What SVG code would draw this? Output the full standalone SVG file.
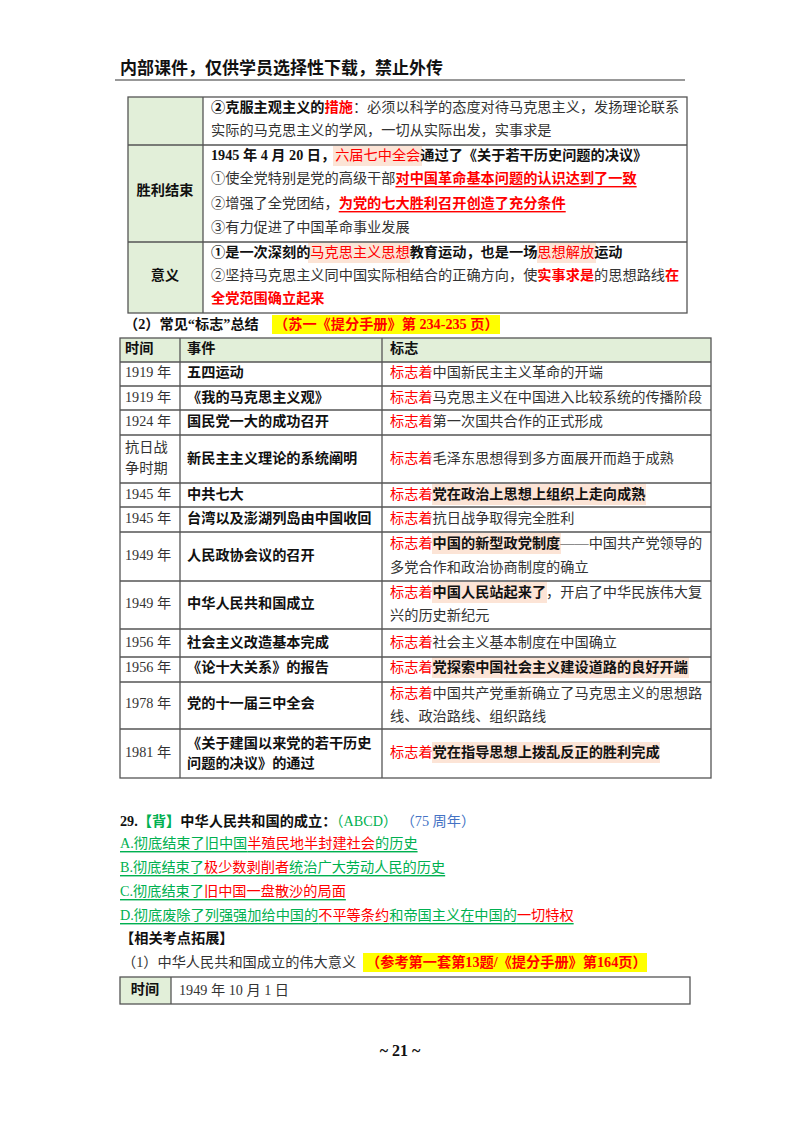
<svg xmlns="http://www.w3.org/2000/svg" width="800" height="1132" viewBox="0 0 800 1132">
<style>
text{font-family:"Liberation Serif","Noto Sans CJK SC",serif;font-size:14.2px;fill:#333;dominant-baseline:central}
.b{font-weight:bold;fill:#111}
.r{fill:#ff0000}
.g{fill:#00b050}
.bl{fill:#4472c4}
.u{text-decoration:underline}
.c{text-anchor:middle}
.ln{stroke:#555;stroke-width:1.3;fill:none}
.cell{fill:#e2efd9}
.pk{fill:#fce4d6}
.ye{fill:#ffff00}
</style>
<rect width="800" height="1132" fill="#fff"/>
<g id="header">
<text x="120" y="68" class="b" style="font-size:17px">内部课件，仅供学员选择性下载，禁止外传</text>
<line x1="115" y1="80" x2="685" y2="80" stroke="#333" stroke-width="1"/>
</g>
<g id="table1">
<rect x="128" y="97" width="75" height="216" class="cell"/>
<rect x="333" y="146" width="89" height="20" class="pk"/>
<rect x="308" y="243" width="102" height="20" class="pk"/>
<rect x="537" y="243" width="59" height="20" class="pk"/>
<rect x="128" y="97" width="559" height="216" class="ln"/>
<line x1="203" y1="97" x2="203" y2="313" class="ln"/>
<line x1="128" y1="145" x2="687" y2="145" class="ln"/>
<line x1="128" y1="242" x2="687" y2="242" class="ln"/>
<text x="211" y="107"><tspan class="b">②克服主观主义的</tspan><tspan class="r b">措施</tspan>：必须以科学的态度对待马克思主义，发扬理论联系</text>
<text x="211" y="130">实际的马克思主义的学风，一切从实际出发，实事求是</text>
<text x="165" y="190" class="b c">胜利结束</text>
<text x="211" y="155" class="b">1945 年 4 月 20 日，<tspan class="r" font-weight="normal">六届七中全会</tspan>通过了《关于若干历史问题的决议》</text>
<text x="211" y="178">①使全党特别是党的高级干部<tspan class="r b u">对中国革命基本问题的认识达到了一致</tspan></text>
<text x="211" y="203">②增强了全党团结，<tspan class="r b u">为党的七大胜利召开创造了充分条件</tspan></text>
<text x="211" y="227">③有力促进了中国革命事业发展</text>
<text x="165" y="275" class="b c">意义</text>
<text x="211" y="252" class="b">①是一次深刻的<tspan class="r" font-weight="normal">马克思主义思想</tspan>教育运动，也是一场<tspan class="r" font-weight="normal">思想解放</tspan>运动</text>
<text x="211" y="275">②坚持马克思主义同中国实际相结合的正确方向，使<tspan class="r b">实事求是</tspan>的思想路线<tspan class="r b">在</tspan></text>
<text x="211" y="298" class="r b">全党范围确立起来</text>
</g>
<g id="title2">
<rect x="272" y="315" width="228" height="19" class="ye"/>
<text x="124" y="324" class="b">（2）常见“标志”总结</text>
<text x="274" y="324" class="r b">（苏一《提分手册》第 234-235 页）</text>
</g>
<g id="table2">
<rect x="120" y="338" width="591" height="24" class="cell"/>
<rect x="432" y="484" width="214" height="21" class="pk"/>
<rect x="432" y="533" width="129" height="21" class="pk"/>
<rect x="432" y="582" width="115" height="21" class="pk"/>
<rect x="432" y="657" width="257" height="21" class="pk"/>
<rect x="432" y="742" width="228" height="21" class="pk"/>
<rect x="120" y="338" width="591" height="440" class="ln"/>
<line x1="180" y1="338" x2="180" y2="778" class="ln"/>
<line x1="382" y1="338" x2="382" y2="778" class="ln"/>
<path class="ln" d="M120 362H711M120 386H711M120 410H711M120 435H711M120 483H711M120 507H711M120 532H711M120 581H711M120 629H711M120 657H711M120 682H711M120 729H711"/>
<text x="125" y="348" class="b">时间</text><text x="187" y="348" class="b">事件</text><text x="390" y="348" class="b">标志</text>
<text x="125" y="372">1919 年</text><text x="187" y="372" class="b">五四运动</text><text x="390" y="372"><tspan class="r">标志着</tspan>中国新民主主义革命的开端</text>
<text x="125" y="397">1919 年</text><text x="187" y="397" class="b">《我的马克思主义观》</text><text x="390" y="397"><tspan class="r">标志着</tspan>马克思主义在中国进入比较系统的传播阶段</text>
<text x="125" y="421">1924 年</text><text x="187" y="421" class="b">国民党一大的成功召开</text><text x="390" y="421"><tspan class="r">标志着</tspan>第一次国共合作的正式形成</text>
<text x="125" y="447">抗日战</text><text x="125" y="468">争时期</text><text x="187" y="458" class="b">新民主主义理论的系统阐明</text><text x="390" y="458"><tspan class="r">标志着</tspan>毛泽东思想得到多方面展开而趋于成熟</text>
<text x="125" y="494">1945 年</text><text x="187" y="494" class="b">中共七大</text><text x="390" y="494"><tspan class="r">标志着</tspan><tspan class="b">党在政治上思想上组织上走向成熟</tspan></text>
<text x="125" y="518">1945 年</text><text x="187" y="518" class="b">台湾以及澎湖列岛由中国收回</text><text x="390" y="518"><tspan class="r">标志着</tspan>抗日战争取得完全胜利</text>
<text x="125" y="555">1949 年</text><text x="187" y="555" class="b">人民政协会议的召开</text><text x="390" y="543"><tspan class="r">标志着</tspan><tspan class="b">中国的新型政党制度</tspan>——中国共产党领导的</text><text x="390" y="567">多党合作和政治协商制度的确立</text>
<text x="125" y="603">1949 年</text><text x="187" y="603" class="b">中华人民共和国成立</text><text x="390" y="592"><tspan class="r">标志着</tspan><tspan class="b">中国人民站起来了</tspan>，开启了中华民族伟大复</text><text x="390" y="615">兴的历史新纪元</text>
<text x="125" y="642">1956 年</text><text x="187" y="642" class="b">社会主义改造基本完成</text><text x="390" y="642"><tspan class="r">标志着</tspan>社会主义基本制度在中国确立</text>
<text x="125" y="667">1956 年</text><text x="187" y="667" class="b">《论十大关系》的报告</text><text x="390" y="667"><tspan class="r">标志着</tspan><tspan class="b">党探索中国社会主义建设道路的良好开端</tspan></text>
<text x="125" y="703">1978 年</text><text x="187" y="703" class="b">党的十一届三中全会</text><text x="390" y="693"><tspan class="r">标志着</tspan>中国共产党重新确立了马克思主义的思想路</text><text x="390" y="716">线、政治路线、组织路线</text>
<text x="125" y="752">1981 年</text><text x="187" y="743" class="b">《关于建国以来党的若干历史</text><text x="187" y="763" class="b">问题的决议》的通过</text><text x="390" y="752"><tspan class="r">标志着</tspan><tspan class="b">党在指导思想上拨乱反正的胜利完成</tspan></text>
</g>
<g id="question">
<text x="120" y="821" class="b">29.<tspan class="g">【背】</tspan>中华人民共和国的成立：<tspan class="g" font-weight="normal">（ABCD）</tspan> <tspan class="bl" font-weight="normal">（75 周年）</tspan></text>
<text x="120" y="843" class="g u">A.彻底结束了旧中国<tspan class="r">半殖民地半封建社会</tspan>的历史</text>
<text x="120" y="867" class="g u">B.彻底结束了<tspan class="r">极少数剥削者</tspan>统治广大劳动人民的历史</text>
<text x="120" y="891" class="g u">C.彻底结束了<tspan class="r">旧中国一盘散沙的局面</tspan></text>
<text x="120" y="915" class="g u">D.彻底废除了列强强加给中国的<tspan class="r">不平等条约</tspan>和帝国主义在中国的<tspan class="r">一切特权</tspan></text>
<text x="120" y="938" class="b">【相关考点拓展】</text>
<rect x="363" y="953" width="284" height="19" class="ye"/>
<text x="122" y="962">（1）中华人民共和国成立的伟大意义</text>
<text x="366" y="962" class="r b">（参考第一套第13题/《提分手册》第164页）</text>
</g>
<g id="table3">
<rect x="120" y="977" width="51" height="27" class="cell"/>
<rect x="120" y="977" width="570" height="27" class="ln"/>
<line x1="171" y1="977" x2="171" y2="1004" class="ln"/>
<text x="145" y="989" class="b c">时间</text>
<text x="179" y="990">1949 年 10 月 1 日</text>
</g>
<text x="400" y="1050" class="b c" style="font-size:16px">~ 21 ~</text>
</svg>
